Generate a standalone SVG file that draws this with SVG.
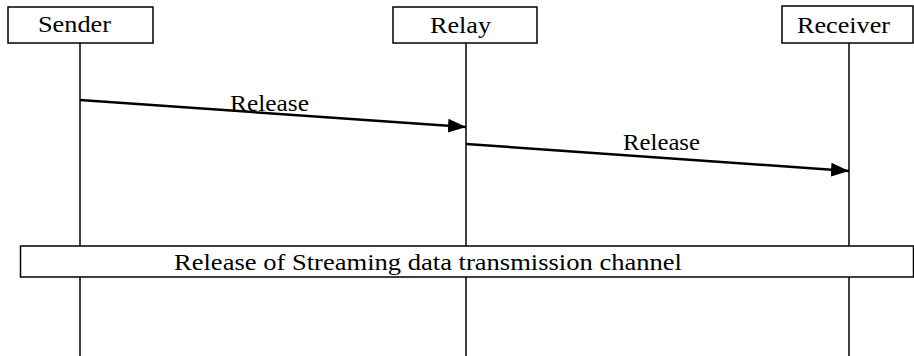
<svg xmlns="http://www.w3.org/2000/svg" width="914" height="356" viewBox="0 0 914 356">
  <style>
    .box { fill: #fff; stroke: #000; stroke-width: 1.5; }
    .life { stroke: #000; stroke-width: 1.5; fill: none; }
    .msg { stroke: #000; stroke-width: 2.5; fill: none; }
    .lbl { font-family: "Liberation Serif", "Times New Roman", Times, serif; font-size: 23px; fill: #000; }
  </style>
  <defs>
    <marker id="arrow" viewBox="0 0 18 14" refX="18" refY="7" markerWidth="18" markerHeight="14" markerUnits="userSpaceOnUse" orient="auto">
      <path d="M0,0 L18,7 L0,14 Z" fill="#000"/>
    </marker>
  </defs>

  <!-- lifelines -->
  <g id="lifelines">
    <line class="life" x1="80" y1="43" x2="80" y2="356"/>
    <line class="life" x1="466" y1="43" x2="466" y2="356"/>
    <line class="life" x1="849" y1="43" x2="849" y2="356"/>
  </g>

  <g id="sender">
    <rect class="box" x="8" y="7" width="145" height="36"/>
    <text class="lbl" x="38" y="32" textLength="73" lengthAdjust="spacingAndGlyphs">Sender</text>
  </g>
  <g id="relay">
    <rect class="box" x="393" y="7" width="144" height="36"/>
    <text class="lbl" x="430" y="33" textLength="61" lengthAdjust="spacingAndGlyphs">Relay</text>
  </g>
  <g id="receiver">
    <rect class="box" x="782" y="6" width="131" height="37"/>
    <text class="lbl" x="797" y="33" textLength="93" lengthAdjust="spacingAndGlyphs">Receiver</text>
  </g>

  <!-- messages -->
  <g id="connectors">
    <line class="msg" x1="80" y1="100" x2="466" y2="127" marker-end="url(#arrow)"/>
    <text class="lbl" x="230" y="111" textLength="79" lengthAdjust="spacingAndGlyphs">Release</text>
    <line class="msg" x1="466" y1="144" x2="849" y2="171" marker-end="url(#arrow)"/>
    <text class="lbl" x="623" y="150" textLength="77" lengthAdjust="spacingAndGlyphs">Release</text>
  </g>

  <g id="channel-release">
    <rect class="box" x="20.5" y="246" width="893" height="31"/>
    <text class="lbl" x="174" y="270" textLength="508" lengthAdjust="spacingAndGlyphs">Release of Streaming data transmission channel</text>
  </g>
</svg>
